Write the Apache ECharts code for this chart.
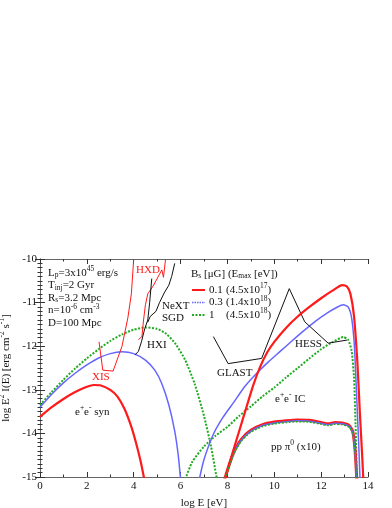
<!DOCTYPE html>
<html><head><meta charset="utf-8">
<script src="https://cdn.jsdelivr.net/npm/echarts@6/dist/echarts.min.js"></script>
<style>html,body{margin:0;padding:0;background:#fff}#c{width:392px;height:508px}</style>
</head><body><div id="c"></div>
<script>
// ---- data (log E [eV], log E^2 I(E)) ----
var xTicks = [0, 2, 4, 6, 8, 10, 12, 14];
var yTicks = [-15, -14, -13, -12, -11, -10];

var synRed = [[0,-13.62],[0.5,-13.4],[1,-13.21],[1.5,-13.05],[2,-12.93],[2.3,-12.89],[2.6,-12.9],[3,-13.0],[3.3,-13.15],[3.6,-13.43],[3.9,-13.85],[4.1,-14.22],[4.3,-14.65],[4.45,-15.05]];
var synBlue = [[0,-13.4],[0.5,-13.1],[1,-12.84],[1.5,-12.62],[2,-12.43],[2.5,-12.27],[3,-12.17],[3.5,-12.13],[4,-12.17],[4.5,-12.32],[4.9,-12.55],[5.2,-12.86],[5.5,-13.35],[5.75,-13.95],[5.9,-14.5],[6.0,-15.05]];
var synGreen = [[0,-13.35],[0.5,-13.05],[1,-12.77],[1.5,-12.51],[2,-12.28],[2.5,-12.07],[3,-11.88],[3.5,-11.73],[4,-11.62],[4.5,-11.57],[5,-11.6],[5.4,-11.72],[5.8,-11.96],[6.2,-12.32],[6.6,-12.86],[7.0,-13.6],[7.3,-14.3],[7.55,-15.05]];

var icRed = [[7.9,-15.05],[8.2,-14.48],[8.5,-13.95],[8.8,-13.42],[9.1,-12.9],[9.4,-12.47],[9.7,-12.14],[10,-11.9],[10.5,-11.58],[11,-11.32],[11.5,-11.1],[12,-10.9],[12.5,-10.72],[12.9,-10.6],[13.1,-10.63],[13.25,-10.8],[13.4,-11.3],[13.55,-12.4],[13.65,-13.5],[13.75,-14.5],[13.8,-15.05]];
var icBlue = [[6.8,-15.05],[7.0,-14.6],[7.4,-14.02],[7.8,-13.64],[8.25,-13.3],[8.75,-12.92],[9.25,-12.62],[9.75,-12.36],[10.25,-12.12],[10.75,-11.88],[11.25,-11.65],[11.75,-11.43],[12.25,-11.24],[12.7,-11.1],[12.95,-11.05],[13.15,-11.1],[13.3,-11.35],[13.42,-12.0],[13.52,-13.2],[13.6,-14.2],[13.66,-15.05]];
var icGreen = [[6.2,-15.05],[6.5,-14.65],[7,-14.3],[7.5,-14.05],[8,-13.85],[8.5,-13.6],[9,-13.38],[9.5,-13.15],[10,-12.95],[10.5,-12.72],[11,-12.5],[11.5,-12.28],[12,-12.07],[12.5,-11.9],[12.95,-11.79],[13.15,-11.85],[13.3,-12.1],[13.4,-12.7],[13.47,-13.8],[13.52,-15.05]];

var ppRed = [[7.88,-15.05],[8.1,-14.68],[8.3,-14.4],[8.6,-14.13],[9,-13.93],[9.5,-13.8],[10,-13.74],[10.5,-13.71],[11,-13.69],[11.5,-13.7],[12,-13.75],[12.3,-13.78],[12.6,-13.75],[12.9,-13.76],[13.2,-13.82],[13.35,-13.96],[13.45,-14.4],[13.52,-15.05]];
var ppBlue = [[7.88,-15.05],[8.1,-14.7],[8.3,-14.42],[8.6,-14.15],[9,-13.95],[9.5,-13.82],[10,-13.76],[10.5,-13.73],[11,-13.71],[11.5,-13.72],[12,-13.77],[12.3,-13.8],[12.6,-13.77],[12.9,-13.78],[13.2,-13.84],[13.35,-13.98],[13.45,-14.42],[13.51,-15.05]];
var ppGreen = [[7.88,-15.05],[8.1,-14.72],[8.3,-14.44],[8.6,-14.17],[9,-13.97],[9.5,-13.84],[10,-13.78],[10.5,-13.75],[11,-13.73],[11.5,-13.74],[12,-13.79],[12.3,-13.82],[12.6,-13.79],[12.9,-13.8],[13.2,-13.86],[13.35,-14.0],[13.45,-14.44],[13.5,-15.05]];

var sensXIS = [[2.52,-11.9],[2.68,-12.55],[3.12,-12.57],[3.5,-12.0],[3.75,-11.35],[3.9,-10.8],[4.0,-10.0]];
var sensHXD = [[4.2,-11.85],[4.35,-11.78],[4.42,-11.4],[4.5,-11.05],[4.6,-10.8],[4.85,-10.6],[5.1,-10.35],[5.2,-10.25],[5.27,-10.42],[5.36,-10.0]];
var sensHXI = [[4.05,-12.2],[4.2,-12.12],[4.33,-11.9],[4.47,-11.6],[4.6,-11.4],[4.68,-11.0],[4.77,-10.45]];
var sensSGD = [[4.6,-11.45],[4.7,-11.32],[4.95,-11.2],[5.1,-11.0],[5.3,-10.78],[5.5,-10.6],[5.62,-10.4],[5.75,-10.1]];
var sensGLAST_HESS = [[7.4,-11.78],[8.03,-12.4],[9.46,-12.28],[10.64,-10.68],[11.3,-11.44],[12.3,-11.93],[13.1,-11.86]];

var legendRows = [['0.1', '(4.5x10', '17', ')'], ['0.3', '(1.4x10', '18', ')'], ['1', '(4.5x10', '18', ')']];

// ---- styles ----
var FF = 'Liberation Serif';
var RED = '#ff1a1a', BLUE = '#6666ff', GREEN = '#22aa22', BLK = '#111';
function rich(col) {
  return {
    n: {fontFamily: FF, fontSize: 11, color: col},
    sup: {fontFamily: FF, fontSize: 7.5, color: col, padding: [0, 0, 7, 0]},
    sub: {fontFamily: FF, fontSize: 7.5, color: col, padding: [5, 0, 0, 0]}
  };
}
function txt(x, y, s, col) {
  return {type: 'text', x: x, y: y, z: 50, style: {text: s, rich: rich(col || BLK), fontFamily: FF, fontSize: 11, fill: col || BLK, verticalAlign: 'middle', align: 'left'}};
}
function line(name, data, col, w, type, z) {
  return {name: name, type: 'line', data: data, showSymbol: false, symbol: 'none', smooth: 0.2,
    lineStyle: {color: col, width: w, type: type || 'solid'}, z: z || 2, silent: true, clip: true};
}
function sens(name, data, col) {
  return {name: name, type: 'line', data: data, showSymbol: false, symbol: 'none', smooth: false,
    lineStyle: {color: col, width: 1}, z: 3, silent: true, clip: true};
}

var chart = echarts.init(document.getElementById('c'), null, {renderer: 'canvas'});
var tickStyle = {show: true, inside: true, length: 5, lineStyle: {color: '#333'}};
var lineStyleAx = {show: true, lineStyle: {color: '#666', width: 1}};
function minor(n) { return {show: true, splitNumber: n, length: 2.5, lineStyle: {color: '#333'}}; }

var graphics = [
  txt(48, 273, '{n|L}{sub|p}{n|=3x10}{sup|45}{n| erg/s}'),
  txt(48, 285.5, '{n|T}{sub|inj}{n|=2 Gyr}'),
  txt(48, 298, '{n|R}{sub|s}{n|=3.2 Mpc}'),
  txt(48, 310.5, '{n|n=10}{sup|-6}{n| cm}{sup|-3}'),
  txt(48, 323, '{n|D=100 Mpc}'),
  txt(136, 270, '{n|HXD}', RED),
  txt(162, 306, '{n|NeXT}'),
  txt(162, 318, '{n|SGD}'),
  txt(147, 345, '{n|HXI}'),
  txt(92, 377, '{n|XIS}', RED),
  txt(75, 412, '{n|e}{sup|+}{n|e}{sup|-}{n| syn}'),
  txt(191, 274, '{n|B}{sub|s}{n| [μG] (E}{sub|max}{n| [eV])}'),
  txt(217, 373, '{n|GLAST}'),
  txt(295, 344, '{n|HESS}'),
  txt(275, 399, '{n|e}{sup|+}{n|e}{sup|-}{n| IC}'),
  txt(271, 447, '{n|pp π}{sup|0}{n| (x10)}')
];
var legCols = [RED, BLUE, GREEN];
var legDash = [null, [1.5, 1], [2, 1.5]];
var legW = [2, 1.5, 2];
var legY = [290, 302.5, 315];
for (var i = 0; i < legendRows.length; i++) {
  graphics.push({type: 'line', z: 50, shape: {x1: 192, y1: legY[i], x2: 205, y2: legY[i]},
    style: {stroke: legCols[i], lineWidth: legW[i], lineDash: legDash[i]}});
  graphics.push(txt(209, legY[i], '{n|' + legendRows[i][0] + '}'));
  graphics.push(txt(226, legY[i], '{n|' + legendRows[i][1] + '}{sup|' + legendRows[i][2] + '}{n|' + legendRows[i][3] + '}'));
}

chart.setOption({
  animation: false,
  backgroundColor: '#fff',
  grid: {left: 40, top: 259, width: 328, height: 218, containLabel: false, outerBoundsMode: 'none'},
  xAxis: [
    {type: 'value', min: xTicks[0], max: xTicks[xTicks.length - 1], interval: 2, position: 'bottom',
      name: 'log E [eV]', nameLocation: 'middle', nameGap: 21,
      nameTextStyle: {fontFamily: FF, fontSize: 11, color: '#111'},
      axisLabel: {fontFamily: FF, fontSize: 11, color: '#111', margin: 4},
      axisLine: lineStyleAx, splitLine: {show: false}, axisTick: tickStyle, minorTick: minor(2)},
    {type: 'value', min: 0, max: 14, interval: 2, position: 'top', axisLabel: {show: false},
      axisLine: lineStyleAx, splitLine: {show: false}, axisTick: tickStyle, minorTick: minor(2)}
  ],
  yAxis: [
    {type: 'value', min: yTicks[0], max: yTicks[yTicks.length - 1], interval: 1, position: 'left',
      name: '{n|log E}{sup|2}{n| I(E) [erg cm}{sup|-2}{n| s}{sup|-1}{n|]}', nameLocation: 'middle', nameGap: 18, nameRotate: 90,
      nameTextStyle: {fontFamily: FF, fontSize: 11, color: '#111', rich: rich('#111')},
      axisLabel: {fontFamily: FF, fontSize: 11, color: '#111', margin: 3},
      axisLine: lineStyleAx, splitLine: {show: false}, axisTick: tickStyle, minorTick: minor(10)},
    {type: 'value', min: -15, max: -10, interval: 1, position: 'right', axisLabel: {show: false},
      axisLine: lineStyleAx, splitLine: {show: false}, axisTick: tickStyle, minorTick: minor(10)}
  ],
  series: [
    line('synGreen', synGreen, GREEN, 2, [2, 1.5], 2),
    line('synBlue', synBlue, BLUE, 1.5, 'solid', 3),
    line('synRed', synRed, RED, 2.2, 'solid', 4),
    line('icGreen', icGreen, GREEN, 2, [2, 1.5], 2),
    line('icBlue', icBlue, BLUE, 1.5, 'solid', 3),
    line('icRed', icRed, RED, 2.2, 'solid', 4),
    line('ppRed', ppRed, RED, 3, 'solid', 2),
    line('ppBlue', ppBlue, BLUE, 1.5, 'solid', 3),
    line('ppGreen', ppGreen, GREEN, 1.5, [2, 1.5], 4),
    sens('XIS', sensXIS, RED),
    sens('HXD', sensHXD, RED),
    sens('HXI', sensHXI, BLK),
    sens('SGD', sensSGD, BLK),
    sens('GLAST/HESS', sensGLAST_HESS, BLK)
  ],
  graphic: graphics
});
</script></body></html>
